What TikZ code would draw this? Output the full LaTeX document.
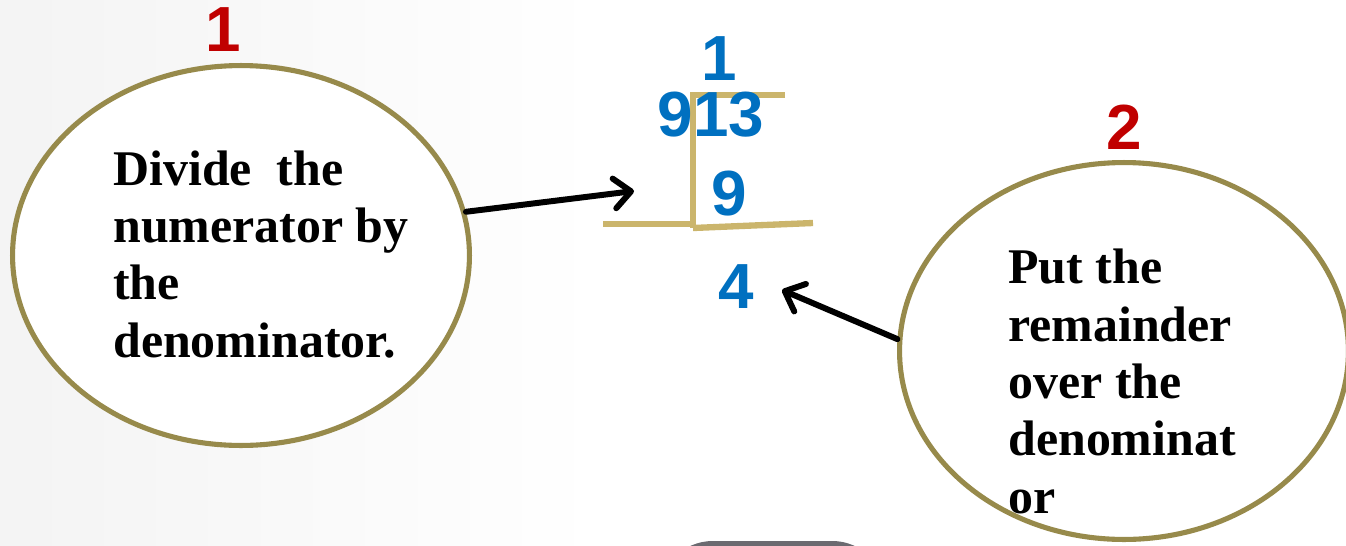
\documentclass[tikz,border=0pt]{standalone}
\usepackage{fontspec}
\setmainfont{Liberation Serif}
\newfontfamily\digitfont{Liberation Sans}
\usepackage{tikz}
\usetikzlibrary{shapes.geometric,arrows.meta}
\definecolor{ringbrown}{HTML}{978A4B}
\definecolor{barcol}{HTML}{CBB56C}
\definecolor{numblue}{HTML}{0070C0}
\definecolor{stepred}{HTML}{C00000}
\definecolor{tabgray}{HTML}{6B6A70}
\newcommand{\stepfont}{\fontsize{28.4}{32.6}\selectfont\bfseries}
\newcommand{\bigdigits}{\fontsize{36.3}{40}\selectfont\digitfont\bfseries}

\begin{document}
\begin{tikzpicture}[x=0.02cm,y=-0.02cm,
        ring/.style={ellipse,draw=ringbrown,line width=2.9pt,fill=white},
        digit/.style={inner sep=0pt,text=numblue,font=\bigdigits},
        steplabel/.style={inner sep=0pt,text=stepred,font=\bigdigits},
        steptext/.style={anchor=base west,align=left,inner sep=0pt,font=\stepfont},
        barline/.style={barcol,line width=3.6pt},
        pointer/.style={-{Straight Barb[length=9.5pt,width=17pt,round]},line width=3.4pt,line cap=round}]
            \useasboundingbox (0,0) rectangle (1346,545);
            \clip (0,0) rectangle (1346,545);
            \shade[left color=gray!9,right color=white] (0,0) rectangle (600,545);
            \fill[tabgray,rounded corners=30] (660,541) rectangle (885,620);
            \node (circ1) at (241,255.5)[ring,minimum width=9.14cm,minimum height=7.6cm] {};
            \node (circ2) at (1124,351)[ring,minimum width=8.98cm,minimum height=7.54cm] {};
            \node (lab1) at (223,30)[steplabel] {1};
            \node (lab2) at (1124,127)[steplabel] {2};
            \node (txt1) at (113,357)[steptext] {Divide\ \ the\\numerator by\\the\\denominator.};
            \node (txt2) at (1008,513)[steptext] {Put the\\remainder\\over the\\denominat\\or};
            \draw[barline] (785,95) -- (693,95) -- (693,228);
            \draw[barline] (603,224) -- (693,224);
            \draw[barline] (693,228) -- (813,223);
            \node (quot) at (719,59)[digit] {1};
            \node (num) at (711,115)[digit] {913};
            \node (sub) at (729,194)[digit] {9};
            \node (rem) at (736,287)[digit] {4};
            \coordinate (tip1) at (634,191);
            \coordinate (tip2) at (782,290);
            \draw[pointer] (circ1.11) -- (tip1);
            \draw[pointer] (circ2.177) -- (tip2);
        \end{tikzpicture}
\end{document}
